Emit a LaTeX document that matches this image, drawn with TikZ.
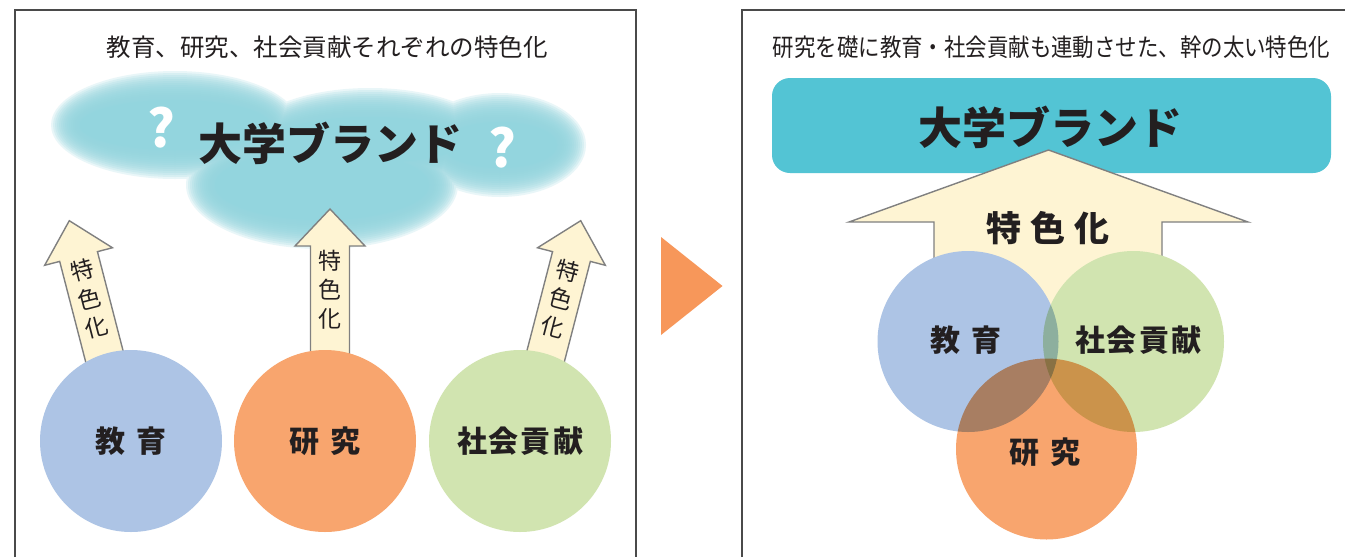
\documentclass[tikz,border=0pt]{standalone}
\usepackage{fontspec}
\newfontfamily\jp{Noto Sans CJK JP}
\definecolor{cloudc}{HTML}{93D5DE}
\definecolor{brandc}{HTML}{53C4D4}
\definecolor{arrowc}{HTML}{FEF4D3}
\definecolor{arrowline}{HTML}{808080}
\definecolor{educ}{HTML}{ADC4E5}
\definecolor{resc}{HTML}{F8A56E}
\definecolor{socc}{HTML}{D1E4B0}
\definecolor{triorange}{HTML}{F7975A}
\definecolor{txt}{HTML}{231F20}
\definecolor{framec}{HTML}{4A4A4A}
\tikzset{
  frameline/.style={draw=framec, line width=1.2pt},
  titletxt/.style={text=txt, inner sep=0pt, font=\jp\fontsize{24.5}{26}\selectfont},
  brandtxt/.style={text=txt, inner sep=0pt, font=\jp\bfseries\fontsize{44}{46}\selectfont},
  qmark/.style={text=white, inner sep=0pt, font=\jp\bfseries\fontsize{52}{54}\selectfont},
  bigcircle/.style={circle, minimum size=182pt, inner sep=0pt, text=txt, font=\jp\bfseries\fontsize{30}{32}\selectfont},
  blockarrow/.style={fill=arrowc, draw=arrowline, line width=1.4pt, line join=miter},
  stacktxt/.style={text=txt, inner sep=0pt, align=center, font=\jp\fontsize{23}{29}\selectfont},
  bigtxt/.style={text=txt, inner sep=0pt, font=\jp\bfseries\fontsize{35}{37}\selectfont},
}
\begin{document}
\begin{tikzpicture}[x=1pt, y=-1pt]
\useasboundingbox (0,0) rectangle (1354,557);
\fill[white] (0,0) rectangle (1354,557);

% ---------- left panel frame ----------
\coordinate (L1) at (15,557);
\coordinate (L2) at (15,10);
\coordinate (L3) at (636,10);
\coordinate (L4) at (636,557);
\draw[frameline] (L1) -- (L2) -- (L3) -- (L4);
\node[titletxt] (ltitle) at (327,47) {教育、研究、社会貢献それぞれの特色化};

% ---------- cloud (soft edge built from layered unions) ----------
\foreach \e in {14,12,...,-14}{
  \fill[cloudc, opacity=0.2]
    (175,125) ellipse [x radius={110pt+\e pt}, y radius={40pt+\e pt}]
    (500,145) ellipse [x radius={72pt+\e pt}, y radius={38pt+\e pt}]
    (322,185) ellipse [x radius={122pt+\e pt}, y radius={50pt+\e pt}]
    (370,140) ellipse [x radius={110pt+\e pt}, y radius={38pt+\e pt}];
}
\fill[cloudc]
    (175,125) ellipse [x radius=95pt, y radius=25pt]
    (500,145) ellipse [x radius=57pt, y radius=23pt]
    (322,185) ellipse [x radius=107pt, y radius=35pt]
    (370,140) ellipse [x radius=95pt, y radius=23pt];
\node[brandtxt] (lbrand) at (330,143) {大学ブランド};
\node[qmark] (q1) at (161,128) {?};
\node[qmark] (q2) at (502,148) {?};

% ---------- small arrows ----------
\foreach \tx/\ty/\ang/\nm in {69.3/220.7/14.5/la, 330/209/0/ma, 580.7/220.7/-14.5/ra}{
  \begin{scope}[shift={(\tx,\ty)}, rotate=\ang]
    \draw[blockarrow] (0,0) -- (35,37) -- (19.5,37) -- (19.5,170) -- (-19.5,170)
      -- (-19.5,37) -- (-35,37) -- cycle;
    \node[stacktxt, rotate=\ang] (\nm txt) at (0,80.5) {特\\色\\化};
  \end{scope}
}

% ---------- left circles ----------
\node[bigcircle, fill=educ] (edu) at (131,441) {教\hspace{11pt}育};
\node[bigcircle, fill=resc] (res) at (325,441) {研\hspace{11pt}究};
\node[bigcircle, fill=socc] (soc) at (520,441) {社\hspace{2pt}会\hspace{2pt}貢\hspace{2pt}献};

% ---------- triangle ----------
\coordinate (T1) at (661,237);
\coordinate (T2) at (722.5,286);
\coordinate (T3) at (661,335);
\fill[triorange] (T1) -- (T2) -- (T3) -- cycle;

% ---------- right panel frame ----------
\coordinate (R1) at (742,557);
\coordinate (R2) at (742,10);
\coordinate (R3) at (1345,10);
\draw[frameline] (R1) -- (R2) -- (R3);
\node[titletxt] (rtitle) at (1051.5,47) {\scalebox{0.875}[1]{研究を礎に教育・社会貢献も連動させた、幹の太い特色化}};

% brand box
\node[fill=brandc, rounded corners=18pt, minimum width=559pt, minimum height=95pt, inner sep=0pt] (rbox) at (1051.5,125.5) {};
\node[brandtxt] (rbrand) at (1050,127) {大学ブランド};

% big arrow
\draw[blockarrow] (1048.5,150) -- (1248,222) -- (1162,222) -- (1162,330) -- (934,330)
  -- (934,222) -- (849,222) -- cycle;
\node[bigtxt] (bigtxt) at (1048,228) {特\hspace{9pt}色\hspace{9pt}化};

% venn circles
\begin{scope}[blend group=multiply]
  \fill[socc] (1133.5,341.5) circle [radius=90.5pt];
  \fill[educ] (968,341.5) circle [radius=90.5pt];
  \fill[resc] (1046.5,449) circle [radius=90.5pt];
\end{scope}
\node[bigcircle] (vedu) at (966,340) {教\hspace{11pt}育};
\node[bigcircle] (vsoc) at (1138,340) {社\hspace{2pt}会\hspace{2pt}貢\hspace{2pt}献};
\node[bigcircle] (vres) at (1045,452) {研\hspace{11pt}究};
\end{tikzpicture}
\end{document}
